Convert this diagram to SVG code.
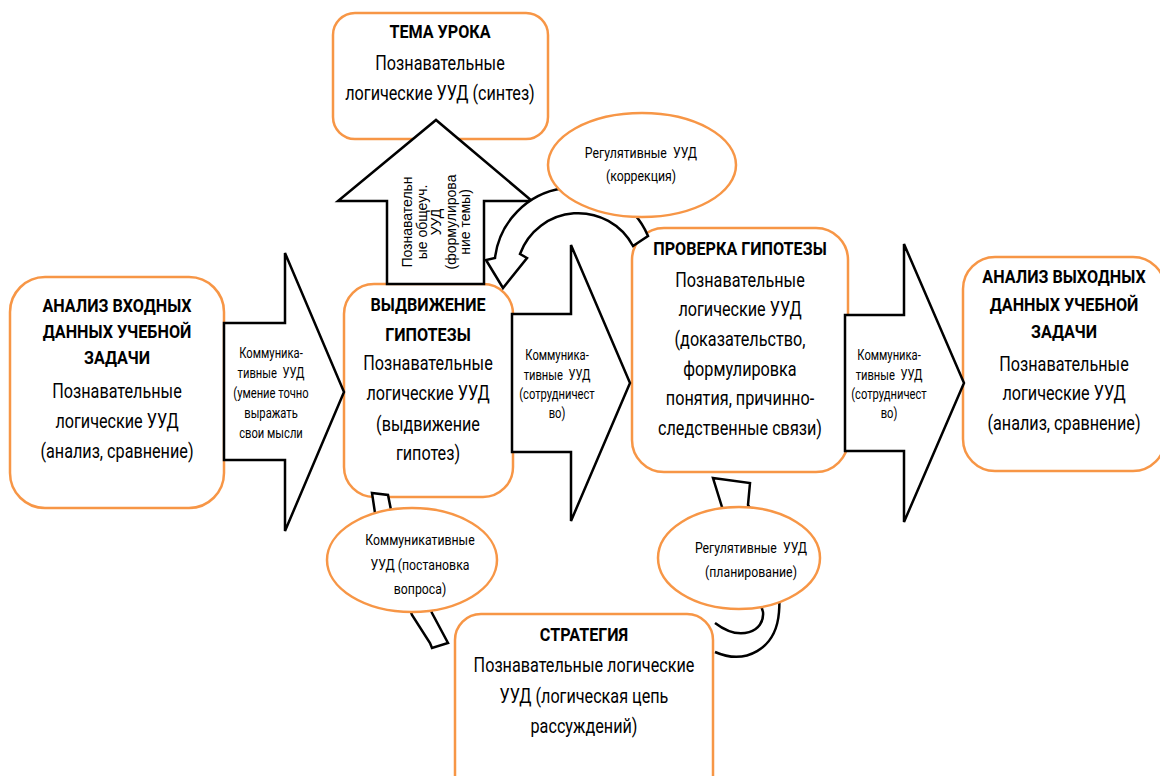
<svg xmlns="http://www.w3.org/2000/svg" width="1160" height="776" viewBox="0 0 1160 776">
<style>
.box{fill:#fff;stroke:#F79646;stroke-width:2.5}
.conn{fill:#fff;stroke:#000;stroke-width:2.5;stroke-linejoin:miter}
.t{font-family:"Roboto","Liberation Sans",sans-serif;text-anchor:middle;fill:#000;transform-box:fill-box;transform-origin:center}
.h{font-size:19px;font-weight:bold;transform:scaleX(0.85)}
.r{font-size:20.5px;transform:scaleX(0.79)}
.e{font-size:15px;transform:scaleX(0.82)}
.a{font-size:14px;transform:scaleX(0.8)}
.v{font-family:"Liberation Sans",Arial,sans-serif;font-size:14px;text-anchor:middle;fill:#000}
</style>
<rect width="1160" height="776" fill="#fff"/>
<g id="nodes-boxes">
<g id="n-analysis-in">
<rect class="box" x="10" y="277" width="214" height="231" rx="35"/>
<text class="t h" x="117" y="312">АНАЛИЗ ВХОДНЫХ</text>
<text class="t h" x="117" y="338">ДАННЫХ УЧЕБНОЙ</text>
<text class="t h" x="117" y="364">ЗАДАЧИ</text>
<text class="t r" x="117" y="398">Познавательные</text>
<text class="t r" x="117" y="428">логические УУД</text>
<text class="t r" x="117" y="458">(анализ, сравнение)</text>
</g>
<g id="n-topic">
<rect class="box" x="333" y="13" width="215" height="126" rx="22"/>
<text class="t h" x="440" y="38">ТЕМА УРОКА</text>
<text class="t r" x="440" y="70">Познавательные</text>
<text class="t r" x="440" y="100">логические УУД (синтез)</text>
</g>
<g id="n-hypothesis">
<rect class="box" x="344" y="284" width="169" height="213" rx="30"/>
<text class="t h" x="428" y="311">ВЫДВИЖЕНИЕ</text>
<text class="t h" x="428" y="341">ГИПОТЕЗЫ</text>
<text class="t r" x="428" y="370">Познавательные</text>
<text class="t r" x="428" y="400">логические УУД</text>
<text class="t r" x="428" y="431">(выдвижение</text>
<text class="t r" x="428" y="460">гипотез)</text>
</g>
<g id="n-check">
<rect class="box" x="632" y="228" width="216" height="244" rx="32"/>
<text class="t h" x="740" y="255">ПРОВЕРКА ГИПОТЕЗЫ</text>
<text class="t r" x="740" y="287">Познавательные</text>
<text class="t r" x="740" y="316">логические УУД</text>
<text class="t r" x="740" y="346">(доказательство,</text>
<text class="t r" x="740" y="376">формулировка</text>
<text class="t r" x="740" y="405">понятия, причинно-</text>
<text class="t r" x="740" y="435">следственные связи)</text>
</g>
<g id="n-analysis-out">
<rect class="box" x="963" y="257" width="202" height="214" rx="32"/>
<text class="t h" x="1064" y="283">АНАЛИЗ ВЫХОДНЫХ</text>
<text class="t h" x="1064" y="311">ДАННЫХ УЧЕБНОЙ</text>
<text class="t h" x="1064" y="338">ЗАДАЧИ</text>
<text class="t r" x="1064" y="371">Познавательные</text>
<text class="t r" x="1064" y="400">логические УУД</text>
<text class="t r" x="1064" y="430">(анализ, сравнение)</text>
</g>
<g id="n-strategy">
<rect class="box" x="455" y="614" width="258" height="190" rx="26"/>
<text class="t h" x="584" y="641">СТРАТЕГИЯ</text>
<text class="t r" x="584" y="672">Познавательные логические</text>
<text class="t r" x="584" y="703">УУД (логическая цепь</text>
<text class="t r" x="584" y="733">рассуждений)</text>
</g>
</g>
<g id="connectors">
<path class="conn" d="M372,493 L388,495 L391,510 L432,613 L448,643 L432,648 L430,643 L412,615 L375,513 Z"/>
<path class="conn" d="M715,623 C740,642 765,632 763,612 Q748,560 722,507 L713,478 L750,483 L748,505 Q783,560 779,612 C776,650 745,665 715,652"/>
<g id="c1">
<polygon class="conn" points="224,323 285,323 285,253 344,392 285,531 285,460 224,460"/>
<text class="t a" x="271" y="358">Коммуника-</text>
<text class="t a" x="271" y="378" xml:space="preserve">тивные  УУД</text>
<text class="t a" x="271" y="398">(умение точно</text>
<text class="t a" x="271" y="418">выражать</text>
<text class="t a" x="271" y="438">свои мысли</text>
</g>
<g id="c2">
<polygon class="conn" points="512,314 571,314 571,245 630,383 571,521 571,452 512,452"/>
<text class="t a" x="557" y="360">Коммуника-</text>
<text class="t a" x="557" y="380" xml:space="preserve">тивные  УУД</text>
<text class="t a" x="557" y="399">(сотрудничест</text>
<text class="t a" x="557" y="418">во)</text>
</g>
<g id="c3">
<polygon class="conn" points="845,315 904,315 904,244 964,383 904,522 904,451 845,451"/>
<text class="t a" x="889" y="360">Коммуника-</text>
<text class="t a" x="889" y="380" xml:space="preserve">тивные  УУД</text>
<text class="t a" x="889" y="399">(сотрудничест</text>
<text class="t a" x="889" y="418">во)</text>
</g>
<g id="c-up">
<polygon class="conn" points="387,284 387,201 338,201 436,120 532,201 484,201 484,284"/>
<g transform="translate(436,222) rotate(-90)">
<text class="v" x="0" y="-24">Познавательн</text>
<text class="v" x="0" y="-9.5">ые общеуч.</text>
<text class="v" x="0" y="5">УУД</text>
<text class="v" x="0" y="19.5">(формулирова</text>
<text class="v" x="0" y="34">ние темы)</text>
</g>
</g>
<path class="conn" d="M648,236 A80,80 0 0 0 495,258 L486,260 L503,288 L527,258 L520,254 A62,62 0 0 1 633,246 Z"/>
</g>
<g id="n-correction">
<ellipse class="box" cx="642" cy="165" rx="94" ry="52"/>
<text class="t e" x="641" y="158" xml:space="preserve">Регулятивные  УУД</text>
<text class="t e" x="641" y="181">(коррекция)</text>
</g>
<g id="n-question">
<ellipse class="box" cx="412" cy="560" rx="85" ry="52"/>
<text class="t e" x="420" y="545">Коммуникативные</text>
<text class="t e" x="420" y="570">УУД (постановка</text>
<text class="t e" x="420" y="594">вопроса)</text>
</g>
<g id="n-planning">
<ellipse class="box" cx="739" cy="558" rx="81" ry="51"/>
<text class="t e" x="751" y="553" xml:space="preserve">Регулятивные  УУД</text>
<text class="t e" x="751" y="577">(планирование)</text>
</g>
</svg>
